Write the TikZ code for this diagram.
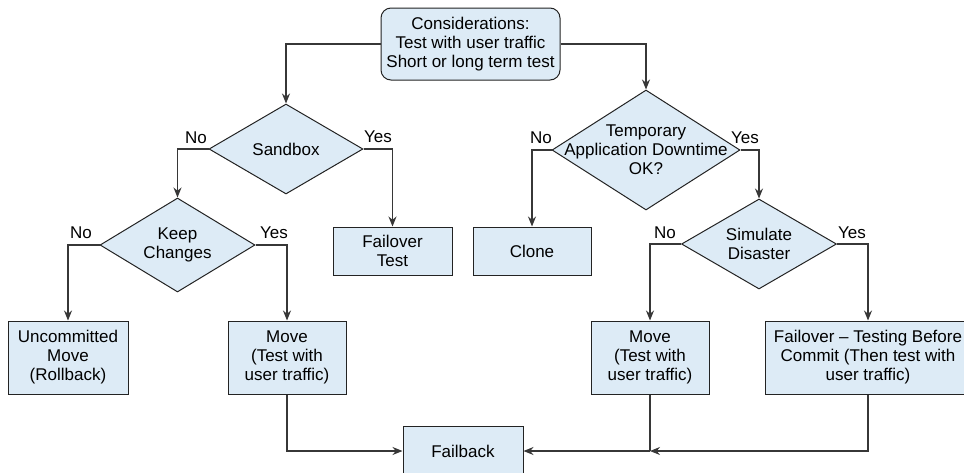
\documentclass[tikz,border=0pt]{standalone}
\usepackage{fontspec}
\setmainfont{Liberation Sans}
\usetikzlibrary{shapes.geometric,arrows.meta}
\definecolor{boxfill}{RGB}{221,235,246}
\definecolor{edge}{RGB}{35,35,35}
\definecolor{wire}{RGB}{55,55,55}
\begin{document}
\begin{tikzpicture}[x=1pt,y=-1pt,
  every node/.style={font=\fontsize{17pt}{19pt}\selectfont, text=black},
  box/.style={draw=edge, fill=boxfill, line width=1pt, align=center, inner sep=0pt},
  decision/.style={diamond, draw=edge, fill=boxfill, line width=1pt, inner sep=0pt},
  txt/.style={align=center, inner sep=0pt},
  lbl/.style={inner sep=0pt},
  flow/.style={draw=wire, line width=1.1pt, -{Stealth[length=10pt,width=8pt]}},
  wireline/.style={draw=wire, line width=1.1pt}]
\useasboundingbox (0,0) rectangle (964,472);

% start box
\node[box, rounded corners=10pt, minimum width=179pt, minimum height=72pt] (top) at (470.5,44)
  {Considerations:\\Test with user traffic\\Short or long term test};

% decisions
\node[decision, minimum width=154pt, minimum height=90pt] (sand) at (286,149) {};
\node[txt] at (sand) {Sandbox};
\node[decision, minimum width=155pt, minimum height=94pt] (keep) at (177.5,245) {};
\node[txt] at (keep) {Keep\\Changes};
\node[decision, minimum width=188pt, minimum height=120pt] (temp) at (646,150) {};
\node[txt] at (temp) {Temporary\\Application Downtime\\OK?};
\node[decision, minimum width=155pt, minimum height=90pt] (sim) at (759,244) {};
\node[txt] at (sim) {Simulate\\Disaster};

% outcomes
\node[box, minimum width=119pt, minimum height=48pt] (fot) at (392.5,251) {Failover\\Test};
\node[box, minimum width=118pt, minimum height=48pt] (clone) at (532,251) {Clone};
\node[box, minimum width=120pt, minimum height=73pt] (unc) at (68,357.5) {Uncommitted\\Move\\(Rollback)};
\node[box, minimum width=118pt, minimum height=73pt] (mvl) at (287,357.5) {Move\\(Test with\\user traffic)};
\node[box, minimum width=118pt, minimum height=73pt] (mvr) at (650,357.5) {Move\\(Test with\\user traffic)};
\node[box, minimum width=206pt, minimum height=73pt] (focb) at (868,357.5)
  {Failover – Testing Before\\Commit (Then test with\\user traffic)};
\node[box, minimum width=120pt, minimum height=50pt] (fb) at (463,451) {Failback};

% branch labels
\node[lbl] (sandno) at (196,138) {No};
\node[lbl] (sandyes) at (378,137) {Yes};
\node[lbl] (keepno) at (81,233) {No};
\node[lbl] (keepyes) at (274,233) {Yes};
\node[lbl] (tempno) at (541,138) {No};
\node[lbl] (tempyes) at (745,138) {Yes};
\node[lbl] (simno) at (665,233) {No};
\node[lbl] (simyes) at (852,233) {Yes};

% connectors
\draw[flow] (top.west) -| (sand.north);
\draw[flow] (top.east) -| (temp.north);
\draw[flow] (sand.west) -| (keep.north);
\draw[flow] (sand.east) -| (fot.north);
\draw[flow] (keep.west) -| (unc.north);
\draw[flow] (keep.east) -| (mvl.north);
\draw[flow] (temp.west) -| (clone.north);
\draw[flow] (temp.east) -| (sim.north);
\draw[flow] (sim.west) -| (mvr.north);
\draw[flow] (sim.east) -| (focb.north);
\draw[flow] (mvl.south) |- (fb.west);
\coordinate (join) at (mvr.south |- fb.east);
\draw[wireline] (mvr.south) -- (join);
\draw[flow] (focb.south) |- (join);
\draw[flow] (join) -- (fb.east);
\end{tikzpicture}
\end{document}
